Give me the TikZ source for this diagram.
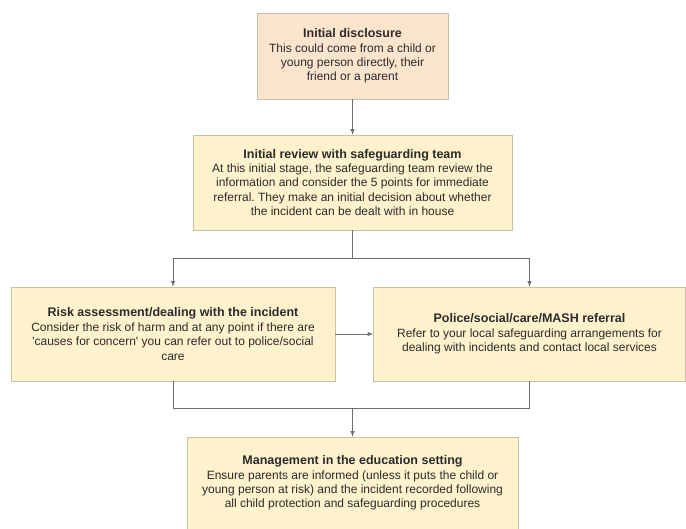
\documentclass[tikz,border=0pt]{standalone}
\usepackage{fontspec}
\setmainfont{Liberation Sans}
\usetikzlibrary{shadows}
\frenchspacing
\definecolor{peachfill}{HTML}{FDE4CC}
\definecolor{creamfill}{HTML}{FFF2CD}
\definecolor{boxline}{HTML}{CDBFA6}
\definecolor{linkgray}{HTML}{6E6E6E}
\definecolor{inktext}{HTML}{2B2B2B}
\newcommand{\steptitle}[1]{{\fontsize{12.5}{14.4}\selectfont\bfseries #1}}
\begin{document}
\begin{tikzpicture}[x=1pt, y=-1pt]
    \tikzset{>=latex}
    \tikzset{
        stage/.style={draw=boxline, line width=0.6pt, fill=creamfill, align=center,
            text=inktext, font=\fontsize{12}{14.4}\selectfont, inner sep=0pt,
            drop shadow={shadow xshift=1.2pt, shadow yshift=-1.2pt, opacity=0.3}},
        link/.style={draw=linkgray, line width=0.9pt}
    }
    \useasboundingbox (0,0) rectangle (686,528);
    \node[stage, fill=peachfill, minimum width=191pt, minimum height=86pt] (disclosure) at (352.5,56)
        {\steptitle{Initial disclosure}\\This could come from a child or\\young person directly, their\\friend or a parent};
    \node[stage, minimum width=319pt, minimum height=95pt] (review) at (352.5,182.5)
        {\steptitle{Initial review with safeguarding team}\\At this initial stage, the safeguarding team review the\\information and consider the 5 points for immediate\\referral. They make an initial decision about whether\\the incident can be dealt with in house};
    \node[stage, minimum width=324pt, minimum height=94pt] (risk) at (173,334)
        {\steptitle{Risk assessment/dealing with the incident}\\Consider the risk of harm and at any point if there are\\\textquotesingle causes for concern\textquotesingle\ you can refer out to police/social\\care};
    \node[stage, minimum width=312pt, minimum height=94pt] (police) at (529.5,334)
        {\steptitle{Police/social/care/MASH referral}\\Refer to your local safeguarding arrangements for\\dealing with incidents and contact local services};
    \node[stage, minimum width=331pt, minimum height=92pt] (manage) at (352.5,483)
        {\steptitle{Management in the education setting}\\Ensure parents are informed (unless it puts the child or\\young person at risk) and the incident recorded following\\all child protection and safeguarding procedures};
    \coordinate (split) at (352.5,258);
    \coordinate (join) at (352.5,408);
    \draw[link,->] (disclosure) -- (review);
    \draw[link] (review) -- (split);
    \draw[link,->] (split) -| (risk);
    \draw[link,->] (split) -| (police);
    \draw[link,->] (risk) -- (police);
    \draw[link] (risk) |- (join);
    \draw[link] (police) |- (join);
    \draw[link,->] (join) -- (manage);
\end{tikzpicture}
\end{document}
